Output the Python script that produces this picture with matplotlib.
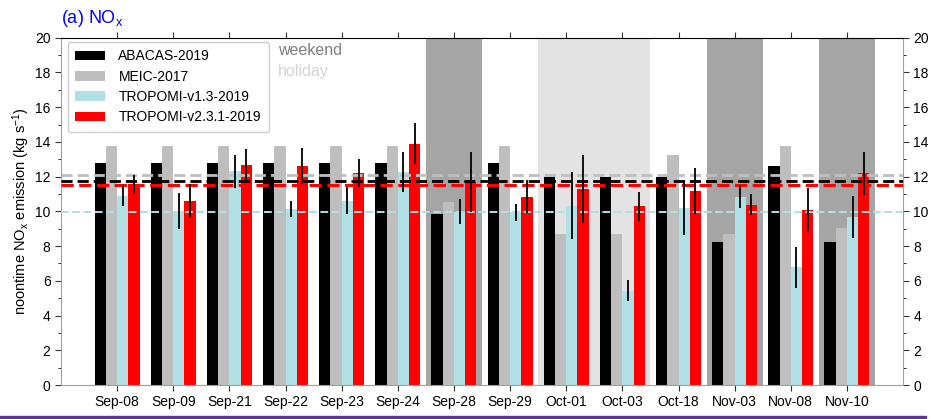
import numpy as np
import matplotlib
matplotlib.use('Agg')
import matplotlib.pyplot as plt
from matplotlib.patches import Rectangle

plt.rcParams['font.family'] = ['Liberation Sans', 'DejaVu Sans']
plt.rcParams['mathtext.default'] = 'regular'

# noontime NOx emission per day (kg/s)
dates = ['Sep-08', 'Sep-09', 'Sep-21', 'Sep-22', 'Sep-23', 'Sep-24', 'Sep-28',
         'Sep-29', 'Oct-01', 'Oct-03', 'Oct-18', 'Nov-03', 'Nov-08', 'Nov-10']
abacas = [12.8, 12.8, 12.8, 12.8, 12.8, 12.8, 9.85, 12.8, 11.95, 11.95, 11.95, 8.25, 12.6, 8.25]
meic = [13.77, 13.77, 13.77, 13.77, 13.77, 13.77, 10.56, 13.77, 8.67, 8.67, 13.24, 8.69, 13.79, 9.04]
tropomi13 = [10.91, 10.03, 12.3, 10.14, 10.62, 12.24, 9.99, 9.95, 10.33, 5.44, 10.22, 10.85, 6.78, 9.68]
tropomi13_err = [0.6, 1.04, 0.93, 0.47, 0.8, 1.15, 0.71, 0.48, 1.94, 0.6, 1.6, 0.64, 1.17, 1.23]
tropomi231 = [11.56, 10.6, 12.66, 12.6, 12.19, 13.9, 11.71, 10.85, 11.29, 10.28, 11.17, 10.39, 10.09, 12.18]
tropomi231_err = [0.55, 1.0, 0.93, 1.03, 0.8, 1.17, 1.72, 0.93, 1.94, 0.82, 1.31, 0.62, 1.28, 1.24]

weekend = ['Sep-28', 'Nov-03', 'Nov-10']
holiday = ['Oct-01', 'Oct-03']

series = [('ABACAS-2019', abacas, None, 'black', 2.0),
          ('MEIC-2017', meic, None, '#bebebe', 2.0),
          ('TROPOMI-v1.3-2019', tropomi13, tropomi13_err, '#b0e0e6', 1.4),
          ('TROPOMI-v2.3.1-2019', tropomi231, tropomi231_err, 'red', 2.2)]

fig = plt.figure(figsize=(9.31, 4.19), dpi=100)
ax = fig.add_axes([0.0655, 0.0811, 0.9045, 0.829])

x = np.arange(len(dates))
width = 0.2

# shaded days
for d in weekend:
    i = dates.index(d)
    ax.axvspan(i - 0.5, i + 0.5, color='#a5a5a5', lw=0, zorder=0)
for d in holiday:
    i = dates.index(d)
    ax.axvspan(i - 0.5, i + 0.5, color='#e3e3e3', lw=0, zorder=0)

for k, (name, vals, err, col, lw) in enumerate(series):
    pos = x + (k - 1.5) * width
    ax.bar(pos, vals, width, color=col, label=name, zorder=2)
    if err is not None:
        ax.errorbar(pos, vals, yerr=err, fmt='none', ecolor='black',
                    elinewidth=1.3, capsize=0, zorder=4)

# period means
for name, vals, err, col, lw in series:
    ax.axhline(np.mean(vals), color=col, ls=(0, (4, 1.8)), lw=lw, zorder=3)

ax.set_xlim(-1, 14)
ax.set_ylim(0, 20)
ax.set_xticks(x)
ax.set_xticklabels(dates)
ax.set_yticks(np.arange(0, 21, 2))
ax.set_yticks(np.arange(1, 20, 2), minor=True)
ax.tick_params(axis='both', labelsize=10, colors='#333333', labelcolor='black')
ax.tick_params(axis='y', which='major', length=4, right=True, labelright=True)
ax.tick_params(axis='y', which='minor', length=2, right=True)
ax.tick_params(axis='x', which='major', length=4, top=True, direction='out')
ax.set_ylabel('noontime NO$_x$ emission (kg s$^{-1}$)', fontsize=10.5, labelpad=2)

for side in ['left', 'right', 'bottom']:
    ax.spines[side].set_color('#a0a0a0')
ax.spines['top'].set_color('black')

leg = ax.legend(loc='upper left', bbox_to_anchor=(0.008, 0.988), borderaxespad=0,
                fontsize=10, handlelength=2.1, handleheight=0.7, handletextpad=1.0,
                labelspacing=0.45, borderpad=0.55, framealpha=1, edgecolor='#cccccc')

ax.text(0.258, 0.962, 'weekend', transform=ax.transAxes, color='#7f7f7f',
        fontsize=11.5, va='center')
ax.text(0.258, 0.902, 'holiday', transform=ax.transAxes, color='#d3d3d3',
        fontsize=11.5, va='center')

fig.text(0.066, 0.955, '(a) NO$_x$', color='blue', fontsize=13, va='center')

# bottom band
fig.patches.append(Rectangle((0, 0), 0.995, 0.007, transform=fig.transFigure,
                             color='#5b3790', zorder=0))

fig.savefig('out.png', dpi=100)
